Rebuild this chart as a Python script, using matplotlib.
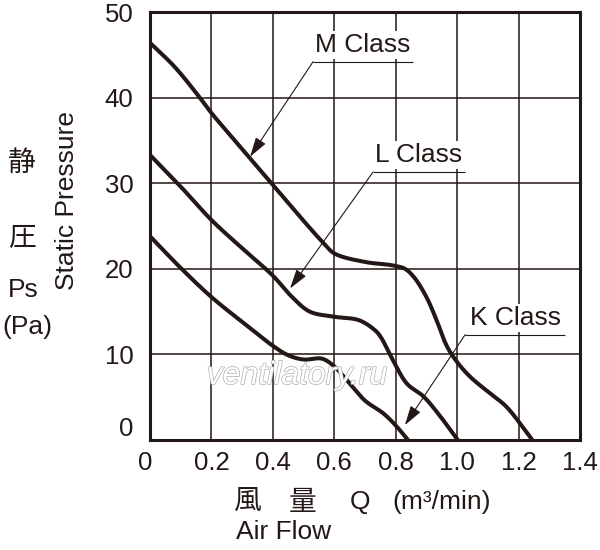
import numpy as np
import matplotlib
matplotlib.use('Agg')
import matplotlib.pyplot as plt
import matplotlib.patheffects as pe
from matplotlib.transforms import ScaledTranslation

INK = '#231815'

# fan curves (air flow m3/min, static pressure Pa)
m_flow = [0, 0.08, 0.16, 0.2, 0.3, 0.4, 0.5, 0.56, 0.6, 0.7, 0.79, 0.83, 0.86, 0.90, 0.933, 0.966, 1.0, 1.042, 1.107, 1.16, 1.245]
m_pres = [46.4, 43.6, 40.1, 38.2, 34.0, 29.8, 25.6, 23.2, 21.8, 20.8, 20.4, 20.0, 19.0, 16.7, 14.0, 11.0, 9.1, 7.4, 5.45, 3.9, 0]

l_flow = [0, 0.1, 0.2, 0.3, 0.4, 0.46, 0.52, 0.6, 0.68, 0.73, 0.75, 0.79, 0.836, 0.89, 0.94, 1.002]
l_pres = [33.3, 29.6, 25.7, 22.4, 19.2, 16.8, 15.0, 14.4, 14.0, 12.9, 12.1, 9.4, 6.6, 5.1, 3.0, 0]

k_flow = [0, 0.1, 0.2, 0.3, 0.4, 0.45, 0.5, 0.56, 0.6, 0.65, 0.7, 0.76, 0.8, 0.84]
k_pres = [23.8, 20.1, 16.7, 13.8, 11.0, 9.9, 9.4, 9.5, 8.6, 6.6, 4.6, 3.1, 1.7, 0]

x_ticks = [0, 0.2, 0.4, 0.6, 0.8, 1.0, 1.2, 1.4]
x_labels = ['0', '0.2', '0.4', '0.6', '0.8', '1.0', '1.2', '1.4']
y_ticks = [0, 10, 20, 30, 40, 50]

# label, underline start, underline end x, arrow tip
callouts = [
    ('M Class', (0.531, 44.2), 0.856, (0.326, 33.1)),
    ('L Class', (0.726, 31.3), 1.026, (0.456, 17.7)),
    ('K Class', (1.026, 12.3), 1.351, (0.830, 1.75)),
]

SX, SY = 430 / 1.4, 428 / 50   # data -> pixel scale, so the spline bends evenly
FS = 19


def smooth(xs, ys, n=30, alpha=0.5):
    # centripetal catmull-rom through the read points
    pts = np.column_stack([np.array(xs) * SX, np.array(ys) * SY])
    p = np.vstack([2 * pts[0] - pts[1], pts, 2 * pts[-1] - pts[-2]])
    out = []
    for i in range(1, len(p) - 2):
        p0, p1, p2, p3 = p[i - 1], p[i], p[i + 1], p[i + 2]
        t0 = 0.0
        t1 = t0 + np.linalg.norm(p1 - p0) ** alpha
        t2 = t1 + np.linalg.norm(p2 - p1) ** alpha
        t3 = t2 + np.linalg.norm(p3 - p2) ** alpha
        t = np.linspace(t1, t2, n, endpoint=False)[:, None]
        a1 = (t1 - t) / (t1 - t0) * p0 + (t - t0) / (t1 - t0) * p1
        a2 = (t2 - t) / (t2 - t1) * p1 + (t - t1) / (t2 - t1) * p2
        a3 = (t3 - t) / (t3 - t2) * p2 + (t - t2) / (t3 - t2) * p3
        b1 = (t2 - t) / (t2 - t0) * a1 + (t - t0) / (t2 - t0) * a2
        b2 = (t3 - t) / (t3 - t1) * a2 + (t - t1) / (t3 - t1) * a3
        out.append((t2 - t) / (t2 - t1) * b1 + (t - t1) / (t2 - t1) * b2)
    out.append(pts[-1:])
    c = np.vstack(out)
    return c[:, 0] / SX, c[:, 1] / SY


plt.rcParams['font.family'] = ['Liberation Sans', 'DejaVu Sans']
plt.rcParams['text.color'] = INK

fig = plt.figure(figsize=(6, 5.5), dpi=100)
ax = fig.add_axes([150 / 600, 110 / 550, 430 / 600, 428 / 550])

for xs, ys in [(m_flow, m_pres), (l_flow, l_pres), (k_flow, k_pres)]:
    cx, cy = smooth(xs, ys)
    ax.plot(cx, cy, color=INK, lw=2.9, solid_capstyle='butt', zorder=3)

ax.set_xlim(0, 1.4)
ax.set_ylim(0, 50)
ax.set_xticks(x_ticks)
ax.set_xticklabels(x_labels)
ax.set_yticks(y_ticks)
ax.grid(True, color=INK, lw=1.1)
ax.set_axisbelow(True)
for s in ax.spines.values():
    s.set_linewidth(2.2)
    s.set_color(INK)
ax.tick_params(length=0, labelsize=FS - 0.5, labelcolor=INK)
ax.tick_params(axis='y', pad=12)
ax.tick_params(axis='x', pad=8)

# the bottom "0" sits above the corner
lab0 = ax.get_yticklabels()[0]
lab0.set_transform(lab0.get_transform() + ScaledTranslation(0, 0.13, fig.dpi_scale_trans))
labx0 = ax.get_xticklabels()[0]
labx0.set_transform(labx0.get_transform() + ScaledTranslation(-0.05, 0, fig.dpi_scale_trans))

for name, (x0, y0), x1, tip in callouts:
    ax.text((x0 + x1) / 2, y0 + 0.55, name, ha='center', va='bottom', fontsize=FS,
            bbox=dict(fc='white', ec='none', pad=1.5), zorder=4)
    ax.plot([x0, x1], [y0, y0], color=INK, lw=0.8, zorder=5, clip_on=False,
            solid_capstyle='butt')
    ax.annotate('', xy=tip, xytext=(x0, y0), zorder=5,
                arrowprops=dict(arrowstyle='-|>,head_length=1.0,head_width=0.3',
                                mutation_scale=12, color=INK, lw=0.8,
                                shrinkA=0, shrinkB=0))

# axis titles
jp = ['Noto Sans CJK JP', 'DejaVu Sans']
fig.text(67 / 600, 1 - 201 / 550, 'Static Pressure', rotation=90, ha='center', va='center', fontsize=FS)
fig.text(22 / 600, 1 - 163 / 550, '静', family=jp, ha='center', va='center', fontsize=20)
fig.text(22 / 600, 1 - 237 / 550, '圧', family=jp, ha='center', va='center', fontsize=20)
fig.text(23 / 600, 1 - 290 / 550, 'Ps', ha='center', va='center', fontsize=FS)
fig.text(27 / 600, 1 - 327 / 550, '(Pa)', ha='center', va='center', fontsize=FS)

fig.text(247 / 600, 1 - 502 / 550, '風', family=jp, ha='center', va='center', fontsize=20)
fig.text(303 / 600, 1 - 502 / 550, '量', family=jp, ha='center', va='center', fontsize=20)
fig.text(360 / 600, 1 - 502 / 550, 'Q', ha='center', va='center', fontsize=FS)
fig.text(442 / 600, 1 - 502 / 550, '(m³/min)', ha='center', va='center', fontsize=FS)
fig.text(284 / 600, 1 - 532 / 550, 'Air Flow', ha='center', va='center', fontsize=FS)

# watermark
fig.text(297 / 600, 1 - 376 / 550, 'ventilatory.ru', ha='center', va='center', fontsize=23,
         style='italic', color='white', zorder=10,
         path_effects=[pe.withStroke(linewidth=1.0, foreground='#b0b0b0')])

fig.savefig('out.png', dpi=100)
